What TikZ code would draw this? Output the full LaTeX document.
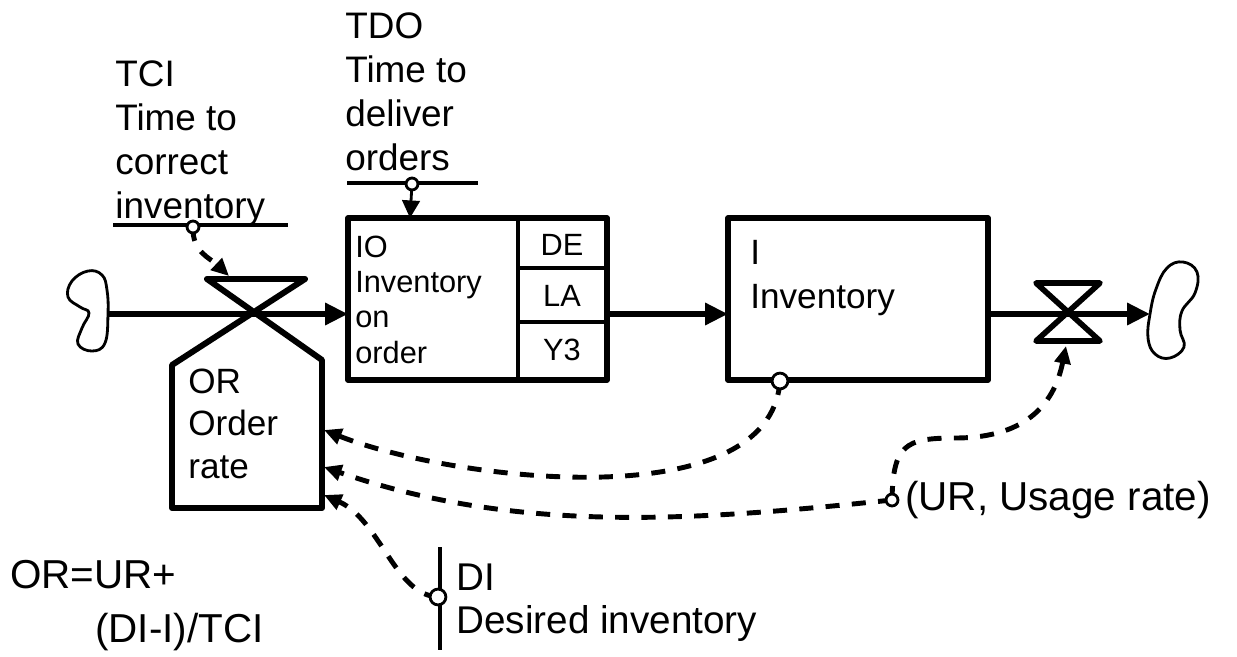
\documentclass[tikz,border=0pt]{standalone}
\usepackage{fontspec}
\setmainfont{Liberation Sans}
\usepackage{tikz}
\usetikzlibrary{arrows.meta}
\colorlet{ink}{black}
\newcommand{\tap}[2]{\draw[ink,line width=1.6pt,fill=white] (#1) circle (#2);}

\begin{document}
\begin{tikzpicture}[x=0.02cm,y=-0.02cm,>={Triangle[length=13pt,width=12pt]},
  lbl/.style={font=\fontsize{21}{25}\selectfont,align=left,inner sep=0pt,anchor=base west},
  celltxt/.style={font=\fontsize{17.5}{20}\selectfont,align=left,inner sep=0pt,anchor=base west},
  wall/.style={ink,line width=3pt,line join=round},
  flow/.style={ink,line width=3.4pt,->},
  info/.style={ink,line width=2.8pt,dash pattern=on 8pt off 7pt,-{Triangle[length=10pt,width=9pt]}}]
\useasboundingbox (0,0) rectangle (1237,656);
% levels
\draw[wall] (348,218) rectangle (607,380);
\draw[wall,line width=2.2pt] (518,218)--(518,380) (518,268)--(607,268) (518,322)--(607,322);
\draw[wall] (728,218) rectangle (988,380);
\coordinate (ioW) at (348,314); \coordinate (ioE) at (607,314); \coordinate (ioN) at (410,218);
\coordinate (iW) at (728,314); \coordinate (iE) at (988,314); \coordinate (iS) at (780,381);
% source and sink
\coordinate (src) at (108,314); \coordinate (snk) at (1150,314);
\draw[ink,line width=1.6pt] plot[smooth cycle,tension=0.7] coordinates {(108,314) (107,290) (102,275) (88,271) (72,281) (68,297) (80,307) (89,313) (82,328) (78,344) (92,351) (105,343)};
\draw[ink,line width=1.6pt] plot[smooth cycle,tension=0.7] coordinates {(1150,314) (1156,289) (1167,268) (1183,262) (1197,272) (1195,293) (1182,311) (1180,330) (1184,347) (1170,358) (1155,354) (1148,338)};
% material flow
\draw[flow] (src) -- (ioW);
\draw[flow] (ioE) -- (iW);
\draw[flow] (iE) -- (snk);
% rates: order valve with its house, usage valve
\draw[wall,line width=3.4pt] (172,508)--(172,365)--(305,279)--(207,279)--(322,360)--(322,508)--cycle;
\draw[wall,line width=3.2pt] (1036,283)--(1100,283)--(1036,341)--(1100,341)--cycle;
\coordinate (vin) at (229,276); \coordinate (vout) at (1066,346);
\coordinate (orA) at (324,430); \coordinate (orB) at (324,467); \coordinate (orC) at (324,495);
% texts (base = last line)
\node[lbl] (tci) at (115,218) {TCI\\Time to\\correct\\inventory};
\node[lbl] (tdo) at (345,170) {TDO\\Time to\\deliver\\orders};
\node[celltxt] (iotxt) at (355,363) {IO\\Inventory\\on\\order};
\node[celltxt,anchor=center] (de) at (562,245) {DE};
\node[celltxt,anchor=center] (la) at (562,296) {LA};
\node[celltxt,anchor=center] (y3) at (562,350) {Y3};
\node[lbl,font=\fontsize{20}{25}\selectfont] (itxt) at (750,308) {I\\Inventory};
\node[lbl,font=\fontsize{20}{24}\selectfont] (ortxt) at (188,478) {OR\\Order\\rate};
\node[lbl,font=\fontsize{22}{24}\selectfont] (ditxt) at (456,633) {DI\\Desired inventory};
\node[lbl,font=\fontsize{23}{26}\selectfont] (eqa) at (10,588) {OR=UR+};
\node[lbl,font=\fontsize{23}{26}\selectfont] (eqb) at (95,642) {(DI-I)/TCI};
\node[lbl,font=\fontsize{23}{26}\selectfont] (urtxt) at (905,510) {(UR, Usage rate)};
% constants
\draw[ink,line width=1.8pt] (113,225) -- (288,225); \coordinate (tcitap) at (193,227);
\draw[ink,line width=1.8pt] (347,183) -- (478,183); \coordinate (tdotap) at (412,184);
\draw[ink,line width=1.8pt] (440,547) -- (440,650); \coordinate (ditap) at (438,597);
\coordinate (urtap) at (892,500);
% information links
\draw[info] (tcitap) .. controls (192,252) and (210,258) .. (vin);
\draw[ink,line width=1.6pt,-{Triangle[length=10pt,width=10pt]}] (tdotap) -- (ioN);
\draw[info] (iS) .. controls (770,520) and (450,480) .. (orA);
\draw[info] (urtap) .. controls (700,520) and (520,535) .. (orB);
\draw[info] (ditap) .. controls (395,595) and (380,520) .. (orC);
\draw[info] (urtap) .. controls (893,445) and (905,438) .. (955,438) .. controls (1030,438) and (1055,400) .. (vout);
\tap{tcitap}{3.4pt} \tap{tdotap}{3.4pt} \tap{iS}{4.5pt} \tap{ditap}{4.5pt} \tap{urtap}{3.4pt}
\end{tikzpicture}
\end{document}
